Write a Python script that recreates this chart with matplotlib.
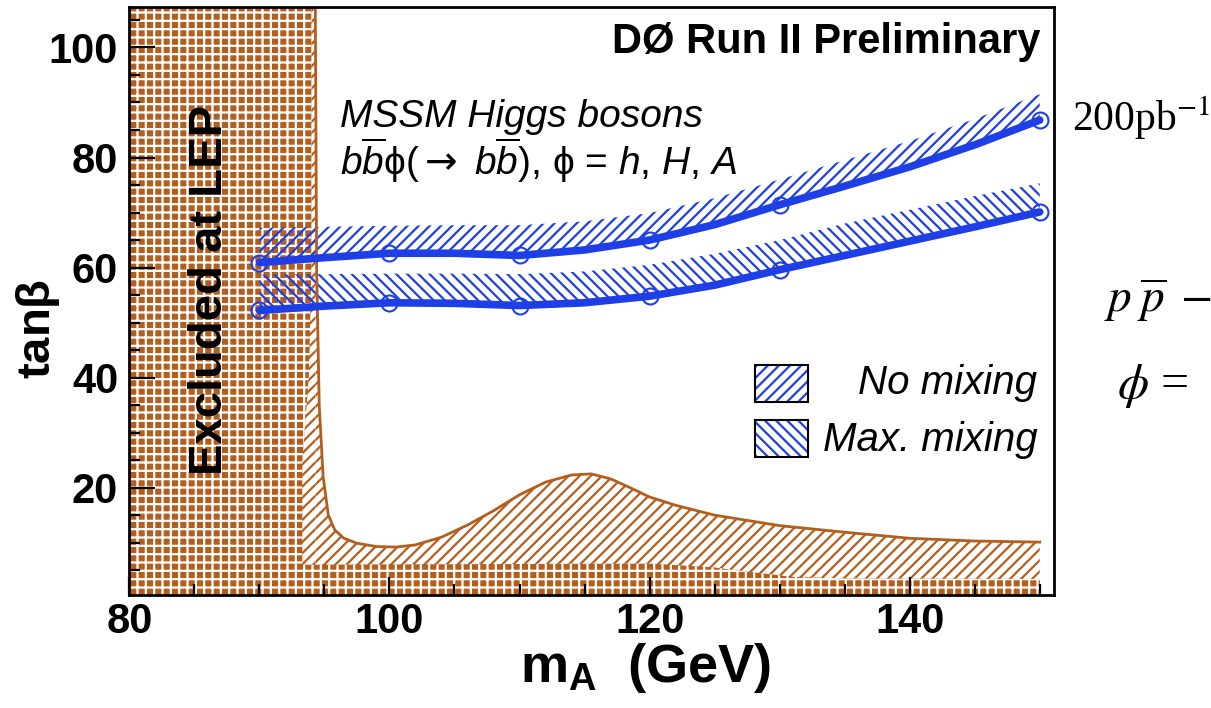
import numpy as np
import matplotlib.pyplot as plt
from matplotlib.patches import Rectangle

plt.rcParams['font.family'] = ['Liberation Sans', 'DejaVu Sans']
plt.rcParams['mathtext.fontset'] = 'custom'
plt.rcParams['mathtext.rm'] = 'Liberation Sans'
plt.rcParams['mathtext.it'] = 'Liberation Sans:italic'
plt.rcParams['mathtext.bf'] = 'Liberation Sans:bold'
plt.rcParams['mathtext.sf'] = 'DejaVu Sans'
plt.rcParams['hatch.linewidth'] = 1.6

brown = '#b45e1e'
blue = '#1f3fe6'

# limits (tan beta vs m_A)
m_line = [90, 95, 100, 105, 110, 115, 120, 125, 130, 135, 140, 145, 150]
nomix_line = [60.9, 61.8, 62.6, 62.6, 62.2, 63.2, 65.0, 67.8, 71.4, 74.8, 78.3, 82.3, 86.8]
nomix_band = [67.2, 67.4, 67.6, 67.7, 67.7, 68.4, 69.9, 72.6, 76.0, 79.5, 83.0, 87.0, 91.5]
maxmix_line = [52.2, 53.0, 53.6, 53.5, 53.1, 53.6, 54.8, 56.8, 59.6, 62.2, 64.8, 67.4, 70.1]
maxmix_band = [58.7, 58.8, 58.9, 58.9, 58.8, 59.3, 60.5, 62.5, 65.0, 68.0, 70.5, 73.0, 75.3]

m_pts = [90, 100, 110, 120, 130, 150]
nomix_pts = [60.9, 62.6, 62.2, 65.0, 71.4, 86.8]
maxmix_pts = [52.2, 53.6, 53.1, 54.8, 59.6, 70.1]

# LEP exclusion
lep_x = [94.3, 94.4, 94.6, 94.9, 95.3, 95.8, 96.5, 97.5, 99.0, 100.5, 102.0, 104.0, 106.0,
         108.0, 110.0, 112.0, 114.0, 115.5, 117.0, 118.5, 120.0, 122.0, 125.0, 130.0,
         135.0, 140.0, 145.0, 150.0]
lep_y = [107.3, 60, 35, 22, 15, 12.3, 10.8, 9.9, 9.3, 9.2, 9.6, 11.0, 13.2,
         15.8, 18.7, 21.0, 22.3, 22.5, 21.6, 20.0, 18.3, 16.8, 15.0, 13.1,
         11.9, 10.8, 10.3, 10.1]
lep_edge_y = [107.3, 60, 40, 25, 0]
lep_edge_x = [94.0, 94.0, 93.8, 93.3, 93.3]
band_x = [80, 93.3, 120, 125, 128, 131, 135, 150]
band_top = [6.0, 6.0, 6.2, 5.5, 4.6, 3.8, 3.5, 3.4]

fig = plt.figure(figsize=(12.11, 7.08), dpi=100)
ax = fig.add_axes([0.1068, 0.1589, 0.7636, 0.8308])

# hatched region below the LEP curve
ax.fill_between(lep_x, 0, lep_y, facecolor='white', edgecolor=brown, hatch='///', linewidth=0)
ax.fill_between([93.0, lep_x[0]], 0, 107.3, facecolor='white', edgecolor=brown, hatch='///', linewidth=0)
# checkerboard: excluded at LEP
ax.fill_betweenx(lep_edge_y, 80, lep_edge_x, facecolor=brown, edgecolor='white', hatch='++', linewidth=0)
ax.fill_between(band_x, 0, band_top, facecolor=brown, edgecolor='white', hatch='++', linewidth=0)
ax.plot(lep_x, lep_y, color=brown, lw=2)

# blue bands
ax.fill_between(m_line, nomix_line, nomix_band, facecolor='none', edgecolor=blue, hatch='///', linewidth=0)
ax.fill_between(m_line, maxmix_line, maxmix_band, facecolor='none', edgecolor=blue, hatch='\\\\\\', linewidth=0)
ax.plot(m_line, nomix_line, color=blue, lw=5.5, solid_capstyle='round')
ax.plot(m_line, maxmix_line, color=blue, lw=5.5, solid_capstyle='round')
ax.plot(m_pts, nomix_pts, 'o', ms=11.5, mfc='none', mec=blue, mew=1.5)
ax.plot(m_pts, maxmix_pts, 'o', ms=11.5, mfc='none', mec=blue, mew=1.5)

ax.set_xlim(80, 151.1)
ax.set_ylim(0.4, 107.3)
ax.set_xticks([80, 100, 120, 140])
ax.set_xticks(np.arange(85, 151, 5), minor=True)
ax.set_yticks([20, 40, 60, 80, 100])
ax.set_yticks(np.arange(5, 107, 5), minor=True)
ax.tick_params(which='both', direction='in', width=1.6, top=False, right=False,
               labelsize=30)
ax.tick_params(axis='y', which='major', length=19, pad=8)
ax.tick_params(axis='y', which='minor', length=8)
ax.tick_params(axis='x', which='major', length=13, pad=5)
ax.tick_params(axis='x', which='minor', length=8)
for lab in ax.get_xticklabels() + ax.get_yticklabels():
    lab.set_fontweight('bold')
for sp in ax.spines.values():
    sp.set_linewidth(2)

ax.text(0.0873, 0.519, 'Excluded at LEP', transform=ax.transAxes, rotation=90,
        ha='center', va='center', fontsize=34, fontweight='bold')
ax.text(0.985, 0.941, 'DØ Run II Preliminary', transform=ax.transAxes,
        ha='right', va='center', fontsize=30, fontweight='bold')
ax.text(0.228, 0.8135, 'MSSM Higgs bosons', transform=ax.transAxes,
        ha='left', va='center', fontsize=28, style='italic')
ax.text(0.228, 0.740, r'$b\overline{b}$ϕ($\mathsf{\rightarrow}$ $b\overline{b}$), ϕ = $h$, $H$, $A$',
        transform=ax.transAxes, ha='left', va='center', fontsize=28)

# legend drawn by hand
ax.add_patch(Rectangle((0.677, 0.329), 0.057, 0.063, transform=ax.transAxes,
                       facecolor='white', edgecolor=blue, hatch='///', lw=0))
ax.add_patch(Rectangle((0.677, 0.329), 0.057, 0.063, transform=ax.transAxes,
                       facecolor='none', edgecolor='black', lw=1.5))
ax.add_patch(Rectangle((0.677, 0.2355), 0.057, 0.063, transform=ax.transAxes,
                       facecolor='white', edgecolor=blue, hatch='\\\\\\', lw=0))
ax.add_patch(Rectangle((0.677, 0.2355), 0.057, 0.063, transform=ax.transAxes,
                       facecolor='none', edgecolor='black', lw=1.5))
ax.text(0.9817, 0.361, 'No mixing', transform=ax.transAxes, ha='right', va='center',
        fontsize=29, style='italic')
ax.text(0.9817, 0.264, 'Max. mixing', transform=ax.transAxes, ha='right', va='center',
        fontsize=29, style='italic')

fig.text(0.031, 0.535, r'tan$\mathbf{\beta}$', rotation=90, ha='center', va='center',
         fontsize=34, fontweight='bold')
fig.text(0.429, 0.037, r'$\mathbf{m_A}$  (GeV)', ha='left', va='baseline',
         fontsize=39, fontweight='bold')

# text to the right of the frame
fig.text(0.885, 0.833, r'200pb$^{-1}$', ha='left', va='center', fontsize=30,
         family='Liberation Serif', math_fontfamily='stix')
fig.text(0.912, 0.575, r'$p\;\overline{p}\;-$', ha='left', va='center', fontsize=34,
         math_fontfamily='stix')
fig.text(0.922, 0.455, r'$\phi$ =', ha='left', va='center', fontsize=36,
         family='Liberation Serif', math_fontfamily='stix')

fig.savefig('out.png', dpi=100)
